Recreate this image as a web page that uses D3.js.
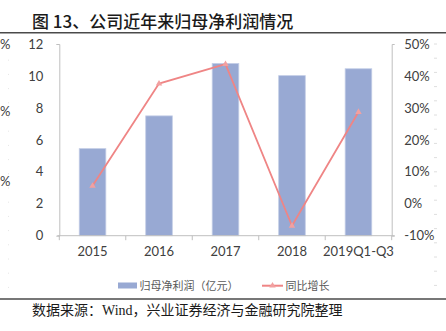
<!DOCTYPE html>
<html>
<head>
<meta charset="utf-8">
<script src="https://cdn.jsdelivr.net/npm/d3@7/dist/d3.min.js"></script>
<style>
  html, body { margin: 0; padding: 0; background: #fff; }
  svg { display: block; }
  .num { font-family: Lato, "Noto Sans", sans-serif; font-size: 13px; fill: #404040; }
  .cjk { font-family: "Noto Sans CJK SC", sans-serif; }
</style>
</head>
<body>
<svg id="chart" width="446" height="331"></svg>
<script>
// Net profit attributable to parent (100M CNY) and YoY growth (%)
const categories = ["2015", "2016", "2017", "2018", "2019Q1-Q3"];
const netProfit = [5.45, 7.5, 10.78, 10.02, 10.45];
const yoyGrowth = [5.6, 37.6, 43.7, -6.9, 28.7];
const leftTicks = [0, 2, 4, 6, 8, 10, 12];
const rightTicks = [-10, 0, 10, 20, 30, 40, 50];

const barColor = "#98a9d3";
const lineColor = "#ef8585";
const axisColor = "#bfbfbf";

const svg = d3.select("#chart");

const plot = { left: 59.3, right: 391.7, top: 44, bottom: 235.7 };

const x = d3.scaleBand().domain(categories).range([plot.left, plot.right]).padding(0);
const yL = d3.scaleLinear().domain([0, 12]).range([plot.bottom, plot.top]);
const yR = d3.scaleLinear().domain([-10, 50]).range([plot.bottom, plot.top]);

// Title and rules
svg.append("text").attr("class", "cjk")
  .attr("x", 32).attr("y", 27.5)
  .attr("font-size", 17).attr("font-weight", 500).attr("fill", "#1a1a1a")
  .text("图 13、公司近年来归母净利润情况");
svg.append("line").attr("x1", 0).attr("x2", 446).attr("y1", 32.7).attr("y2", 32.7)
  .attr("stroke", "#4a4a4a").attr("stroke-width", 1.6);
svg.append("line").attr("x1", 0).attr("x2", 446).attr("y1", 299).attr("y2", 299)
  .attr("stroke", "#4a4a4a").attr("stroke-width", 1.6);

// Edges of the neighbouring panels
const edgeMarks = d3.range(0, 18).map(i => 44 + i * 14.2);
svg.append("g").selectAll("line").data(edgeMarks).join("line")
  .attr("x1", 434).attr("x2", 437).attr("y1", d => d).attr("y2", d => d)
  .attr("stroke", "#dedede").attr("stroke-width", 1);
svg.append("g").selectAll("line").data(edgeMarks.slice(1)).join("line")
  .attr("x1", 8).attr("x2", 9).attr("y1", d => d + 2).attr("y2", d => d + 2)
  .attr("stroke", "#e6e6e6").attr("stroke-width", 1);
svg.append("g").selectAll("text").data([44, 111.7, 181.7]).join("text")
  .attr("class", "num").attr("x", 0).attr("y", d => d).attr("dy", "0.35em")
  .attr("font-size", 12).text("%");

// Bars
const barW = x.bandwidth() * 0.4;
svg.append("g").selectAll("rect").data(categories).join("rect")
  .attr("x", (d) => x(d) + (x.bandwidth() - barW) / 2)
  .attr("width", barW)
  .attr("y", (d, i) => yL(netProfit[i]))
  .attr("height", (d, i) => yL(0) - yL(netProfit[i]))
  .attr("fill", barColor)
  .attr("stroke", "#c3cde6").attr("stroke-width", 0.8);

// Left axis
const gL = svg.append("g").attr("transform", `translate(${plot.left},0)`)
  .call(d3.axisLeft(yL).tickValues(leftTicks).tickSize(0).tickSizeOuter(3).tickPadding(16));
gL.select(".domain").attr("stroke", axisColor);
gL.selectAll("text").attr("class", "num").attr("font-family", null).attr("font-size", null);

// Right axis
const gR = svg.append("g").attr("transform", `translate(${plot.right},0)`)
  .call(d3.axisRight(yR).tickValues(rightTicks).tickSize(0).tickSizeOuter(3)
    .tickPadding(12.5).tickFormat(d => d + "%"));
gR.select(".domain").attr("stroke", axisColor);
gR.selectAll("text").attr("class", "num").attr("font-family", null).attr("font-size", null);

// Bottom axis with ticks on category boundaries
const gX = svg.append("g").attr("transform", `translate(0,${plot.bottom})`)
  .call(d3.axisBottom(x).tickSize(0).tickPadding(11));
gX.select(".domain").remove();
gX.selectAll("text").attr("class", "num").attr("font-family", null).attr("font-size", null);
svg.append("line").attr("x1", plot.left - 2).attr("x2", plot.right + 3)
  .attr("y1", plot.bottom).attr("y2", plot.bottom).attr("stroke", axisColor);
const bounds = categories.map(c => x(c)).concat([x.range()[1]]);
svg.append("g").selectAll("line").data(bounds).join("line")
  .attr("x1", d => d).attr("x2", d => d)
  .attr("y1", plot.bottom).attr("y2", plot.bottom + 4.5)
  .attr("stroke", axisColor);

// Growth line with triangle markers
const cx = (d, i) => x(categories[i]) + x.bandwidth() / 2;
const line = d3.line().x(cx).y(d => yR(d));
svg.append("path").datum(yoyGrowth)
  .attr("d", line).attr("fill", "none")
  .attr("stroke", lineColor).attr("stroke-width", 1.8);
const tri = d3.symbol().type(d3.symbolTriangle).size(18);
svg.append("g").selectAll("path").data(yoyGrowth).join("path")
  .attr("d", tri)
  .attr("transform", (d, i) => `translate(${cx(d, i)},${yR(d)})`)
  .attr("fill", "#f2a0a0");

// Legend
const lg = svg.append("g");
lg.append("rect").attr("x", 118).attr("y", 282.5).attr("width", 19).attr("height", 6)
  .attr("fill", barColor);
lg.append("text").attr("class", "cjk").attr("x", 139.5).attr("y", 285.7).attr("dy", "0.36em")
  .attr("font-size", 11).attr("fill", "#595959").text("归母净利润（亿元）");
lg.append("line").attr("x1", 262).attr("x2", 283).attr("y1", 285.7).attr("y2", 285.7)
  .attr("stroke", lineColor).attr("stroke-width", 2);
lg.append("path").attr("d", tri).attr("transform", "translate(272.5,285.7)").attr("fill", "#f2a0a0");
lg.append("text").attr("class", "cjk").attr("x", 285.5).attr("y", 285.7).attr("dy", "0.36em")
  .attr("font-size", 11).attr("fill", "#595959").text("同比增长");

// Source note
svg.append("text")
  .attr("x", 32).attr("y", 314.5)
  .attr("font-family", "'Liberation Serif', 'Noto Sans CJK SC', serif")
  .attr("font-size", 14).attr("fill", "#1a1a1a")
  .text("数据来源：Wind，兴业证券经济与金融研究院整理");
</script>
</body>
</html>
